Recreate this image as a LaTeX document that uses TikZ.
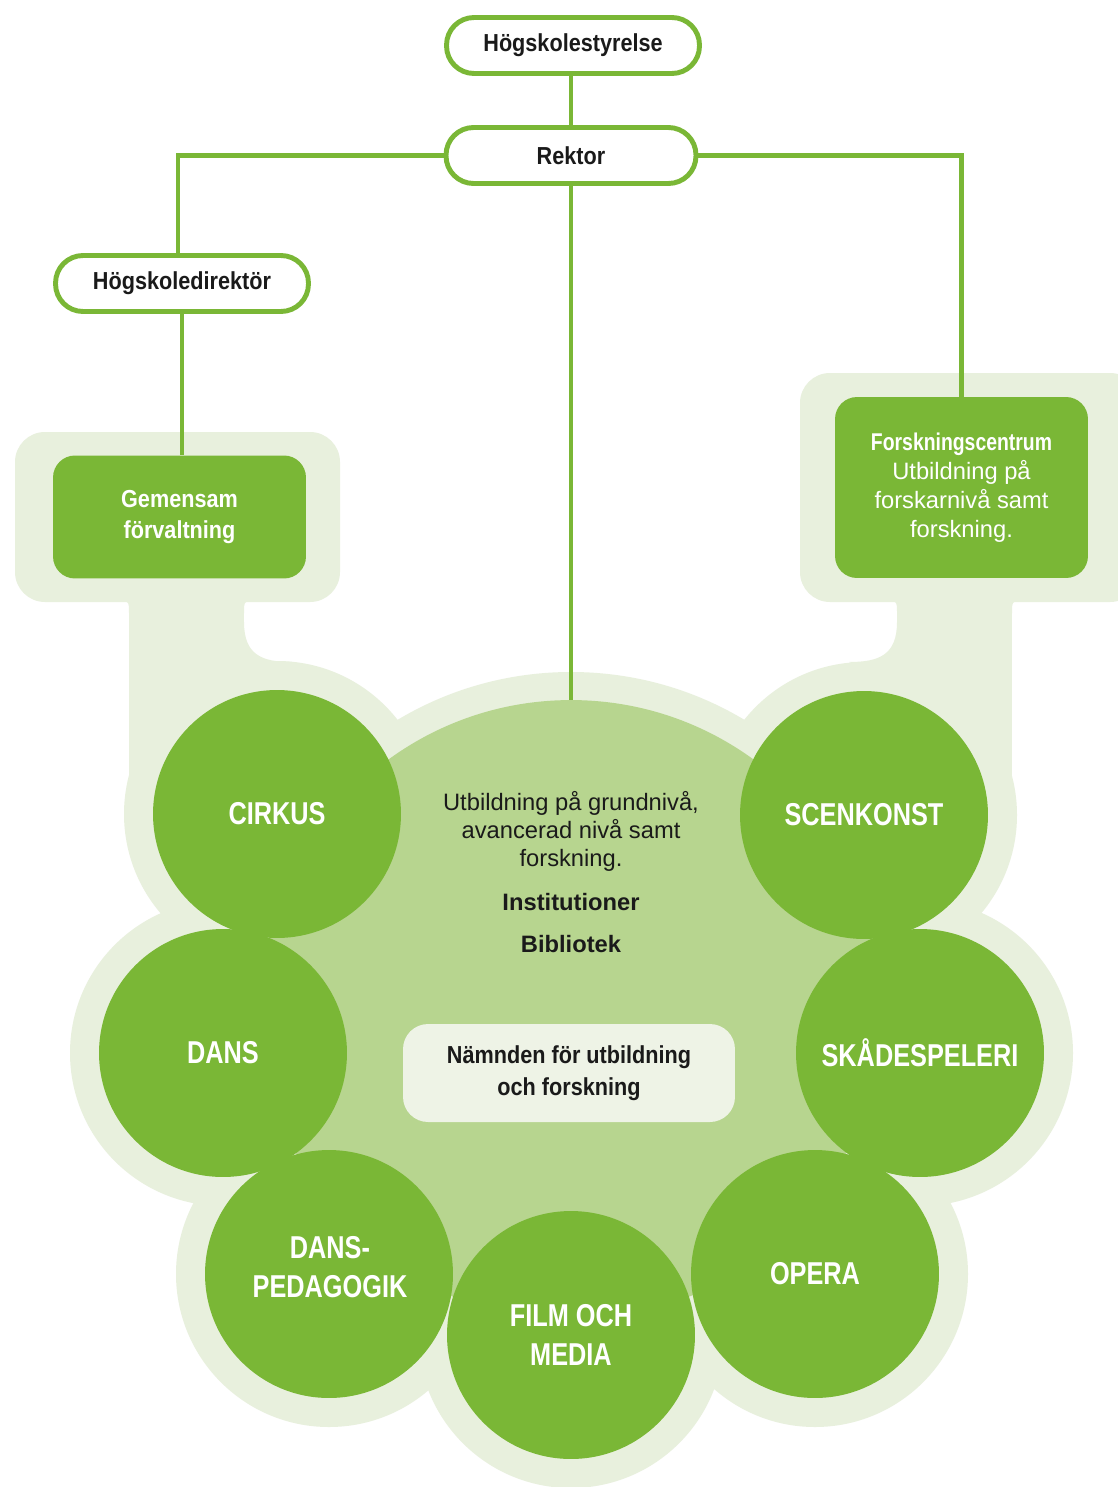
\documentclass[tikz,border=0pt]{standalone}
\usepackage{fontspec}
\setmainfont{Liberation Sans}
\newfontfamily\pillfont[FakeStretch=0.88]{Liberation Sans}
\newfontfamily\circfont[FakeStretch=0.8]{Liberation Sans}
\definecolor{leafgreen}{RGB}{122,183,54}
\definecolor{halogreen}{RGB}{232,240,221}
\definecolor{midgreen}{RGB}{183,213,143}
\definecolor{palegreen}{RGB}{238,243,230}
\definecolor{inkblack}{RGB}{26,26,26}
\tikzset{
  pill/.style={draw=leafgreen,line width=2.8pt,fill=white,rounded corners=0.55cm,
    minimum width=5.06cm,minimum height=1.12cm,inner sep=0pt,text=inkblack,
    font={\pillfont\bfseries\fontsize{14}{16}\selectfont}},
  unit/.style={fill=leafgreen,rounded corners=0.44cm,minimum width=5.06cm,
    inner sep=0pt,text=white,align=center},
  dept/.style={circle,fill=leafgreen,minimum size=4.96cm,inner sep=0pt,text=white,
    align=center,font={\circfont\bfseries\fontsize{18}{22.2}\selectfont}},
  link/.style={leafgreen,line width=2.8pt},
  plain/.style={text=inkblack,align=center,font={\fontsize{13.5}{15.9}\selectfont}}
}
\begin{document}
\begin{tikzpicture}[x=0.02cm,y=-0.02cm]
	% page
	\useasboundingbox[fill=white] (0,0) rectangle (1118,1487);
	% light halo behind units and departments
	\fill[halogreen,rounded corners=0.6cm] (15,432) rectangle (340,602);
	\fill[halogreen,rounded corners=0.6cm] (800,373) rectangle (1140,602);
	\fill[halogreen] (129,590) rectangle (244,790);
	\fill[halogreen] (897,590) rectangle (1012,790);
	\fill[halogreen] (571,1010) circle (338);
	\foreach \x/\y in {277/814,864/815,223/1053,920/1053,329/1274,571/1335,815/1274}
		\fill[halogreen] (\x,\y) circle (153);
	% soft joins of the stems
	\fill[halogreen] (244,622) .. controls (244,655) and (262,662) .. (292,662) -- (244,680) -- cycle;
	\fill[halogreen] (897,622) .. controls (897,655) and (879,662) .. (849,662) -- (897,680) -- cycle;
	\fill[halogreen] (117,601) .. controls (129,601) .. (129,613) -- (129,601) -- cycle;
	\fill[halogreen] (256,601) .. controls (244,601) .. (244,613) -- (244,601) -- cycle;
	\fill[halogreen] (885,601) .. controls (897,601) .. (897,613) -- (897,601) -- cycle;
	\fill[halogreen] (1024,601) .. controls (1012,601) .. (1012,613) -- (1012,601) -- cycle;
	% inner field
	\node[circle,fill=midgreen,minimum size=12.4cm,inner sep=0pt] (field) at (571,1010) {};
	\node[plain] (grund) at (571,831) {Utbildning på grundnivå,\\avancerad nivå samt\\forskning.};
	\node[plain,font={\bfseries\fontsize{13.5}{16}\selectfont}] (inst) at (571,902) {Institutioner};
	\node[plain,font={\bfseries\fontsize{13.5}{16}\selectfont}] (bibl) at (571,944) {Bibliotek};
	\node[fill=palegreen,rounded corners=0.5cm,minimum width=6.64cm,minimum height=1.96cm,
		text=inkblack,align=center,font={\pillfont\bfseries\fontsize{14}{18}\selectfont}]
		(namnd) at (569,1073) {Nämnden för utbildning\\och forskning};
	% departments
	\node[dept] (cirkus) at (277,814) {CIRKUS};
	\node[dept] (scenkonst) at (864,815) {SCENKONST};
	\node[dept] (dans) at (223,1053) {DANS};
	\node[dept] (skade) at (920,1053) {SKÅDESPELERI};
	\node[dept] (danspet) at (329,1274) {};
	\node[dept,fill=none] (danspettext) at (330,1267) {DANS-\\PEDAGOGIK};
	\node[dept] (opera) at (815,1274) {OPERA};
	\node[dept] (film) at (571,1335) {FILM OCH\\MEDIA};
	% units
	\node[unit,minimum height=2.46cm,font={\pillfont\bfseries\fontsize{14}{18}\selectfont}]
		(gemensam) at (179.5,517) {Gemensam\\förvaltning};
	\node[unit,minimum height=3.62cm,font={\fontsize{13.5}{16.5}\selectfont}]
		(forsk) at (961.5,487.5) {{\circfont\bfseries\fontsize{13.8}{16.5}\selectfont Forskningscentrum}\\Utbildning på\\forskarnivå samt\\forskning.};
	% board and management
	\node[pill] (styrelse) at (573,45.5) {Högskolestyrelse};
	\node[pill,minimum width=5.0cm] (rektor) at (571,155.5) {Rektor};
	\node[pill] (direktor) at (182,283.5) {Högskoledirektör};
	% connectors
	\draw[link] (rektor.north) -- (rektor.north |- styrelse.south);
	\draw[link] (rektor.west) -| ([xshift=-0.08cm]direktor.north);
	\draw[link] (direktor.south) -- (direktor.south |- gemensam.north);
	\draw[link] (rektor.east) -| (forsk.north);
	\draw[link] (rektor.south) -- (field.north);
\end{tikzpicture}
\end{document}
